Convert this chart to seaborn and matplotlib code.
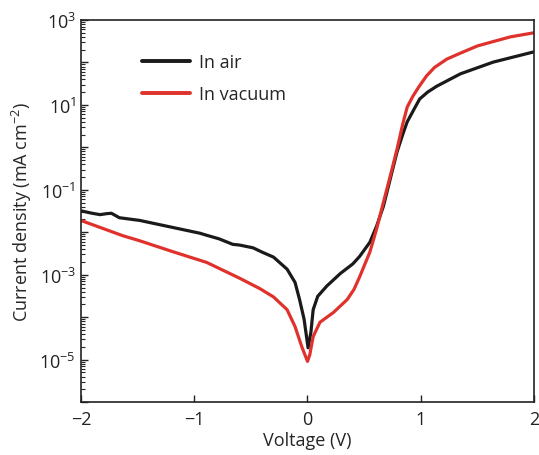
import numpy as np
import pandas as pd
import seaborn as sns
import matplotlib.pyplot as plt
from matplotlib.ticker import FixedLocator, FixedFormatter, LogLocator, NullFormatter

# valori (tensione in V, densita' di corrente in mA cm^-2)
v_air = [-2.0, -1.9, -1.83, -1.77, -1.73, -1.66, -1.48, -1.19, -0.95, -0.89, -0.78,
         -0.66, -0.60, -0.48, -0.40, -0.30, -0.18, -0.11, -0.07, -0.03, 0.005, 0.03,
         0.05, 0.09, 0.17, 0.29, 0.40, 0.46, 0.55, 0.61, 0.67, 0.73, 0.79, 0.84, 0.88,
         0.94, 0.99, 1.06, 1.14, 1.35, 1.64, 2.0]
j_air = [3.2e-2, 2.8e-2, 2.6e-2, 2.75e-2, 2.8e-2, 2.2e-2, 1.9e-2, 1.3e-2, 9.5e-3, 8.5e-3,
         7.0e-3, 5.2e-3, 5.0e-3, 4.3e-3, 3.4e-3, 2.6e-3, 1.35e-3, 6.6e-4, 2.6e-4, 8.9e-5,
         1.9e-5, 4.4e-5, 1.5e-4, 3.1e-4, 5.4e-4, 1.07e-3, 1.8e-3, 2.7e-3, 5.8e-3, 1.4e-2,
         4.1e-2, 0.18, 0.78, 2.0, 4.0, 7.9, 13.8, 20, 27.5, 54, 102, 178]

v_vac = [-2.0, -1.63, -1.48, -1.19, -0.89, -0.60, -0.42, -0.30, -0.18, -0.11, -0.05, 0.0,
         0.02, 0.05, 0.11, 0.23, 0.35, 0.41, 0.46, 0.55, 0.61, 0.67, 0.73, 0.79, 0.84,
         0.88, 0.93, 0.98, 1.05, 1.12, 1.23, 1.35, 1.50, 1.65, 1.79, 2.0]
j_vac = [1.9e-2, 8.3e-3, 6.3e-3, 3.5e-3, 1.95e-3, 8.3e-4, 4.7e-4, 3.0e-4, 1.5e-4, 6.0e-5,
         2.0e-5, 9.1e-6, 1.3e-5, 3.5e-5, 7.6e-5, 1.3e-4, 2.6e-4, 4.5e-4, 8.9e-4, 3.4e-3,
         1.2e-2, 5.1e-2, 0.21, 0.91, 3.5, 8.9, 16, 26, 48, 76, 120, 166, 245, 316, 400, 500]

labels = ["In air", "In vacuum"]
colors = ["#1a1a1a", "#e0322c"]

y_ticks = [1e-5, 1e-3, 1e-1, 1e1, 1e3]
y_ticklabels = ["10$^{-5}$", "10$^{-3}$", "10$^{-1}$", "10$^{1}$", "10$^{3}$"]
x_ticks = [-2, -1, 0, 1, 2]
x_ticklabels = ["\u22122", "\u22121", "0", "1", "2"]

df = pd.concat([
    pd.DataFrame({"V": v_air, "J": j_air, "cond": labels[0]}),
    pd.DataFrame({"V": v_vac, "J": j_vac, "cond": labels[1]}),
])

sns.set_style("ticks")
plt.rcParams["font.family"] = ["Open Sans", "DejaVu Sans"]
plt.rcParams["mathtext.fontset"] = "custom"
plt.rcParams["mathtext.rm"] = "Open Sans"
plt.rcParams["mathtext.it"] = "Open Sans:italic"

fig, ax = plt.subplots(figsize=(5.39, 4.56), dpi=100)
fig.subplots_adjust(left=0.150, right=0.991, top=0.954, bottom=0.116)

sns.lineplot(data=df, x="V", y="J", hue="cond", palette=colors, linewidth=2.3,
             sort=False, estimator=None, ax=ax)

ax.set_yscale("log")
ax.set_xlim(-2, 2)
ax.set_ylim(1e-6, 1e3)

# tacche maggiori ogni decade, etichette solo sugli esponenti dispari
decades = [10.0**k for k in range(-6, 4)]
ax.yaxis.set_major_locator(FixedLocator(decades))
ax.yaxis.set_major_formatter(FixedFormatter(
    [y_ticklabels[y_ticks.index(d)] if d in y_ticks else "" for d in decades]))
ax.yaxis.set_minor_locator(LogLocator(base=10, subs=np.arange(2, 10), numticks=20))
ax.yaxis.set_minor_formatter(NullFormatter())
ax.set_xticks(x_ticks)
ax.set_xticklabels(x_ticklabels)

ax.tick_params(axis="both", which="major", direction="in", length=5, width=1,
               labelsize=13, colors="#222222")
ax.tick_params(axis="y", which="minor", direction="in", length=3, width=0.8)
ax.tick_params(axis="x", which="major", pad=6)
for s in ax.spines.values():
    s.set_linewidth(1.2)
    s.set_color("#222222")

ax.set_xlabel("Voltage (V)", fontsize=13, labelpad=2)
ax.set_ylabel("Current density (mA cm$^{-2}$)", fontsize=13, labelpad=4)

leg = ax.legend(loc="upper left", bbox_to_anchor=(0.10, 0.955), frameon=False,
                fontsize=13, handlelength=2.65, handletextpad=0.5, labelspacing=0.75,
                title=None)
for line in leg.get_lines():
    line.set_linewidth(2.8)

plt.savefig("out.png", dpi=100)
